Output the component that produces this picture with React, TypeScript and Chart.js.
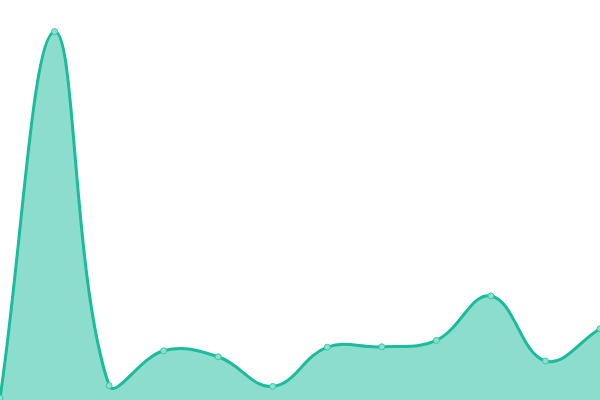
import { Chart, registerables } from 'chart.js';
import { useEffect, useRef } from 'react';

Chart.register(...registerables);

const labels = ['1', '2', '3', '4', '5', '6', '7', '8', '9', '10', '11', '12'];
const values = [0.5, 92.1, 3.6, 12.3, 10.8, 3.4, 13.2, 13.3, 14.9, 26, 9.75, 17.8];

export default function App() {
    const canvasRef = useRef<HTMLCanvasElement | null>(null);

    useEffect(() => {
        if (!canvasRef.current) {
            return;
        }

        const chart = new Chart(canvasRef.current, {
            type: 'line',
            data: {
                labels,
                datasets: [
                    {
                        data: values,
                        borderColor: '#1abc9c',
                        backgroundColor: 'rgba(26, 188, 156, 0.5)',
                        fill: 'origin',
                        borderWidth: 3,
                        tension: 0.4,
                        pointRadius: 3,
                        pointBorderWidth: 1,
                        pointBackgroundColor: 'rgba(140, 224, 207, 1)',
                        pointBorderColor: '#3cc7a8',
                        clip: false,
                    },
                ],
            },
            options: {
                responsive: true,
                maintainAspectRatio: false,
                animation: false,
                layout: { padding: 0, autoPadding: false },
                plugins: {
                    legend: { display: false },
                    tooltip: { enabled: false },
                },
                scales: {
                    x: { display: false, offset: false },
                    y: { display: false, min: 0, max: 100 },
                },
            },
        });

        return () => chart.destroy();
    }, []);

    return (
        <div style={{ position: 'fixed', left: 0, top: 0, width: 600, height: 400, background: '#fff' }}>
            <canvas ref={canvasRef} />
        </div>
    );
}
